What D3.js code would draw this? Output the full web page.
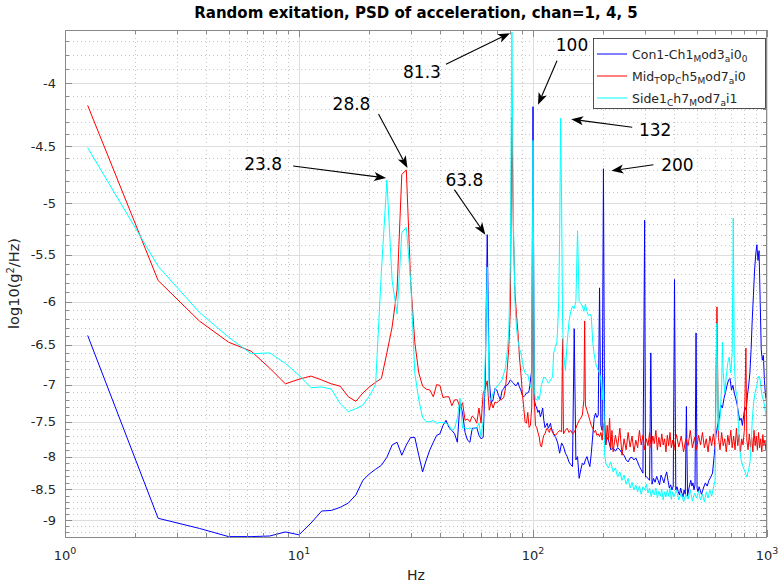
<!DOCTYPE html>
<html><head><meta charset="utf-8">
<script src="https://cdn.jsdelivr.net/npm/d3@7/dist/d3.min.js"></script>
<style>body{margin:0;background:#fff}svg text{font-family:"DejaVu Sans",sans-serif;fill:#262626}</style>
</head><body><svg id="c" width="782" height="586"></svg>
<script>
// ---------------- data ----------------
const con1 = [[1.25,-6.39],[2.5,-8.97],[3.75,-9.14],[5,-9.28],[6.25,-9.28],[7.5,-9.27],[8.75,-9.2],[10,-9.25],[11.25,-9.05],[12.5,-8.85],[13.75,-8.84],[15,-8.79],[16.25,-8.72],[17.5,-8.59],[18.75,-8.36],[20,-8.26],[21.25,-8.19],[22.5,-8.13],[23.75,-8.01],[25,-7.83],[26.25,-7.79],[27.5,-7.98],[28.75,-7.83],[30,-7.72],[31.25,-7.72],[32.5,-7.98],[33.75,-8.23],[35,-8.05],[36.25,-7.9],[37.5,-7.79],[38.75,-7.69],[40,-7.67],[41.25,-7.55],[42.5,-7.48],[43.75,-7.58],[45,-7.62],[46.25,-7.67],[47.5,-7.79],[48.75,-7.24],[50,-7.38],[51.25,-7.65],[52.5,-7.76],[53.75,-7.79],[55,-7.59],[56.25,-7.59],[57.5,-7.58],[58.75,-7.69],[60,-7.74],[61.25,-7.72],[62.5,-6.94],[63.75,-5.3],[65,-6.94],[66.25,-7.24],[67.5,-7.2],[68.75,-7.05],[70,-7.07],[71.25,-7.14],[72.5,-7.2],[73.75,-7.08],[75,-7.05],[76.25,-7.01],[77.5,-7.01],[78.75,-6.98],[80,-6.94],[81.25,-6.96],[82.5,-6.98],[83.75,-7.01],[85,-7.01],[86.25,-6.97],[87.5,-7.03],[88.75,-7.07],[90,-7.14],[91.25,-7.16],[92.5,-7.14],[93.75,-7.11],[95,-7.11],[96.25,-7.08],[97.5,-6.94],[98.75,-6.82],[100,-4.18],
[101.25,-7.2],[102.5,-7.27],[103.75,-7.31],[105,-7.37],[106.25,-7.34],[107.5,-7.43],[108.75,-7.38],[110,-7.31],[111.25,-7.48],[112.5,-7.58],[113.75,-7.55],[115,-7.52],[116.25,-7.59],[117.5,-7.56],[118.75,-7.52],[120,-7.6],[121.25,-7.62],[122.5,-7.68],[125,-7.72],[127.5,-7.8],[130,-7.95],[132.5,-7.8],[135,-7.85],[137.5,-7.95],[140,-8.0],[142.5,-8.08],[145,-8.12],[147.5,-8.15],[150,-6.31],[152.5,-8.05],[155,-8.0],[157.5,-8.33],[160,-8.2],[162.5,-8.1],[165,-8.12],[167.5,-8.05],[170,-8.0],[172.5,-8.08],[175,-8.15],[177.5,-7.95],[180,-7.7],[182.5,-7.45],[185,-7.38],[187.5,-7.44],[190,-7.41],[192.5,-5.85],[195,-7.55],[197.5,-7.62],[200,-4.69],
[202.5,-7.83],[205,-7.8],[207.5,-7.72],[210,-7.75],[215,-7.9],[220,-7.87],[225,-7.92],[230,-7.87],[235,-7.9],[240,-7.95],[245,-7.98],[250,-8.05],[255,-8.08],[260,-8.02],[265,-8.01],[270,-8.05],[275,-8.02],[280,-8.08],[285,-8.15],[290,-8.2],[295,-8.25],[300,-5.16],[302.5,-8.31],[305,-8.3],[310,-8.33],[315,-8.36],[318.75,-6.6],[322.5,-8.42],[327.5,-8.33],[332.5,-8.39],[337.5,-8.3],[342.5,-8.36],[347.5,-8.43],[352.5,-8.28],[357.5,-8.33],[362.5,-8.4],[367.5,-8.3],[372.5,-8.23],[377.5,-8.36],[382.5,-8.48],[387.5,-8.43],[392.5,-8.51],[397.5,-8.45],[402.5,-5.76],[407.5,-8.51],[412.5,-8.46],[417.5,-8.54],[422.5,-8.59],[427.5,-8.48],[432.5,-8.56],[437.5,-8.62],[442.5,-8.51],[447.5,-8.58],[452.5,-7.29],[457.5,-8.61],[462.5,-8.51],[467.5,-8.43],[472.5,-8.36],[477.5,-8.45],[482.5,-8.4],[487.5,-8.51],[492.5,-8.43],[497.5,-6.36],[502.5,-8.48],[507.5,-8.54],[512.5,-8.46],[517.5,-8.51],[525,-8.58],[535,-8.48],[545,-8.4],[555,-8.45],[565,-8.36],[575,-8.31],[585,-8.25],[595,-7.98],[605,-7.69],[615,-7.55],[625,-7.46],[635,-7.27],[645,-7.31],[655,-7.18],[665,-7.1],[675,-7.01],[685,-6.94],[695,-6.92],[705,-7.07],[715,-7.01],[725,-7.11],[735,-7.18],[745,-7.26],[755,-7.38],[765,-7.48],[775,-7.45],[785,-7.55],[795,-7.41],[805,-7.3],[815,-7.34],[825,-7.14],[835,-7.01],[845,-6.85],[855,-6.56],[865,-6.2],[875,-5.93],[885,-5.66],[895,-5.5],[905,-5.4],[915,-5.56],[925,-5.46],[935,-5.99],[945,-6.56],[955,-6.69],[965,-6.63],[975,-6.95],[985,-7.14],[995,-7.21],[1000,-7.27]];

const midTop = [[1.25,-4.17],[2.5,-5.77],[3.75,-6.22],[5,-6.47],[6.25,-6.58],[7.5,-6.79],[8.75,-6.99],[10,-6.93],[11.25,-6.89],[12.5,-6.94],[13.75,-6.99],[15,-7.02],[16.25,-7.16],[17.5,-7.22],[18.75,-7.11],[20,-7.03],[21.25,-6.97],[22.5,-6.92],[23.75,-6.6],[25,-6.29],[26.25,-5.87],[27.5,-4.74],[28.75,-4.7],[30,-5.78],[31.25,-6.47],[32.5,-6.85],[33.75,-7.02],[35,-7.06],[36.25,-7.07],[37.5,-7.16],[38.75,-7.0],[40,-7.01],[41.25,-7.17],[42.5,-7.16],[43.75,-7.16],[45,-7.28],[46.25,-7.2],[47.5,-7.2],[48.75,-7.31],[50,-7.24],[51.25,-7.48],[52.5,-7.46],[53.75,-7.5],[55,-7.42],[56.25,-7.45],[57.5,-7.52],[58.75,-7.31],[60,-7.52],[61.25,-7.11],[62.5,-7.05],[63.75,-6.95],[65,-7.34],[66.25,-7.23],[67.5,-7.31],[68.75,-7.23],[70,-7.24],[71.25,-7.22],[72.5,-7.2],[73.75,-7.19],[75,-7.17],[76.25,-7.05],[77.5,-6.82],[78.75,-6.55],[80,-6.1],[81.25,-4.26],[82.5,-5.3],[83.75,-5.9],[85,-6.15],[86.25,-6.35],[87.5,-6.65],[88.75,-6.85],[90,-7.1],[91.25,-7.3],[92.5,-7.5],[93.75,-7.52],[95,-7.37],[96.25,-7.58],[97.5,-7.55],[98.75,-7.3],[100,-5.53],
[101.25,-7.2],[102.5,-7.55],[103.75,-7.58],[105,-7.65],[106.25,-7.71],[107.5,-7.83],[108.75,-7.86],[110,-7.76],[111.25,-7.69],[112.5,-7.67],[113.75,-7.62],[115,-7.59],[116.25,-7.62],[117.5,-7.65],[118.75,-7.59],[120,-7.62],[122.5,-7.67],[125,-7.69],[127.5,-7.65],[130,-7.62],[132.5,-7.64],[133.75,-6.43],[135,-7.67],[137.5,-7.62],[140,-7.59],[142.5,-7.65],[145,-7.62],[147.5,-7.67],[150,-7.65],[152.5,-7.59],[155,-7.53],[157.5,-7.48],[160,-7.45],[162.5,-7.41],[165,-7.2],[166.25,-6.22],[167.5,-7.27],[170,-7.34],[172.5,-7.41],[175,-7.48],[177.5,-7.55],[180,-7.59],[182.5,-7.65],[185,-7.62],[187.5,-7.69],[190,-7.67],[192.5,-7.71],[195,-7.65],[197.5,-7.76],[200,-7.55],
[202.5,-7.48],[205,-7.83],[207.5,-7.55],[210,-7.76],[212.5,-7.45],[215,-7.87],[217.5,-7.62],[220,-7.93],[225,-7.69],[230,-7.86],[235,-7.59],[240,-7.98],[245,-7.74],[250,-7.9],[255,-7.65],[260,-7.86],[265,-7.7],[270,-7.93],[275,-7.76],[280,-7.87],[285,-7.62],[290,-7.83],[295,-7.69],[300,-7.9],[305,-7.74],[310,-7.84],[315,-7.65],[320,-7.87],[325,-7.7],[330,-7.81],[335,-7.62],[340,-7.9],[345,-7.72],[350,-7.86],[355,-7.67],[360,-7.83],[365,-7.74],[370,-7.93],[375,-7.69],[380,-7.84],[385,-7.65],[390,-7.87],[395,-7.76],[400,-7.9],[410,-7.68],[420,-7.86],[430,-7.7],[440,-7.93],[450,-7.74],[460,-7.84],[470,-7.62],[480,-7.87],[490,-7.72],[500,-7.9],[510,-7.69],[520,-7.83],[530,-7.65],[540,-7.87],[550,-7.74],[560,-7.93],[570,-7.7],[580,-7.84],[590,-7.67],[600,-7.86],[611.25,-6.06],[620,-7.72],[630,-7.9],[640,-7.65],[650,-7.84],[660,-7.74],[670,-7.93],[680,-7.69],[690,-7.83],[700,-7.62],[710,-7.87],[720,-7.7],[730,-7.9],[740,-7.59],[750,-7.84],[760,-7.68],[770,-7.93],[780,-7.74],[790,-7.83],[800,-7.62],[812.5,-6.54],[820,-7.76],[830,-7.9],[840,-7.67],[850,-7.86],[860,-7.72],[870,-7.93],[880,-7.62],[890,-7.84],[900,-7.7],[910,-7.9],[920,-7.65],[930,-7.87],[940,-7.74],[950,-7.93],[960,-7.68],[970,-7.84],[980,-7.76],[990,-7.9],[1000,-7.7]];

const side1 = [[1.25,-4.51],[2.5,-5.62],[3.75,-6.12],[5,-6.41],[6.25,-6.61],[7.5,-6.6],[8.75,-6.73],[10,-6.88],[11.25,-7.04],[12.5,-7.03],[13.75,-7.06],[15,-7.25],[16.25,-7.36],[17.5,-7.32],[18.75,-7.27],[20,-7.15],[21.25,-7.0],[22.5,-5.67],[23.75,-4.79],[25,-5.77],[26.25,-6.14],[27.5,-5.28],[28.75,-5.23],[30,-5.77],[31.25,-6.85],[32.5,-7.2],[33.75,-7.44],[35,-7.5],[36.25,-7.5],[37.5,-7.48],[38.75,-7.52],[40,-7.51],[41.25,-7.51],[42.5,-7.52],[43.75,-7.55],[45,-7.62],[46.25,-7.59],[47.5,-7.45],[48.75,-7.18],[50,-7.59],[51.25,-7.58],[52.5,-7.6],[53.75,-7.58],[55,-7.62],[56.25,-7.58],[57.5,-7.59],[58.75,-7.52],[60,-7.71],[61.25,-7.48],[62.5,-6.69],[63.75,-5.63],[65,-7.16],[66.25,-7.2],[67.5,-7.11],[68.75,-7.07],[70,-7.02],[71.25,-7.0],[72.5,-6.97],[73.75,-6.94],[75,-6.86],[76.25,-6.78],[77.5,-6.6],[78.75,-6.36],[80,-5.6],[81.25,-3.64],[82.5,-5.2],[83.75,-6.0],[85,-6.3],[86.25,-6.45],[87.5,-6.55],[88.75,-6.6],[90,-6.7],[91.25,-6.8],[92.5,-6.85],[93.75,-6.87],[95,-6.87],[96.25,-6.95],[97.5,-7.03],[98.75,-7.05],[100,-4.45],
[101.25,-7.05],[102.5,-7.2],[103.75,-7.2],[105,-7.15],[106.25,-7.2],[107.5,-7.1],[108.75,-7.0],[110,-6.95],[111.25,-6.9],[112.5,-6.92],[113.75,-6.93],[115,-6.95],[116.25,-6.98],[117.5,-6.97],[118.75,-6.94],[120,-6.92],[121.25,-6.9],[122.5,-6.6],[123.75,-6.56],[125,-6.5],[126.25,-6.5],[127.5,-6.3],[128.75,-6.0],[130,-5.3],[131.25,-4.27],[132.5,-5.0],[133.75,-6.2],[135,-6.6],[137.5,-6.82],[140,-6.47],[142.5,-6.23],[145,-6.11],[147.5,-6.05],[150,-6.08],[152.5,-6.0],[155,-5.26],[157.5,-6.0],[160,-6.02],[162.5,-6.05],[165,-6.11],[167.5,-6.03],[170,-6.11],[172.5,-6.16],[175,-6.14],[177.5,-6.17],[180,-6.47],[182.5,-6.61],[185,-6.72],[187.5,-6.78],[190,-6.82],[192.5,-6.85],[195,-6.94],[197.5,-7.2],[200,-6.9],
[202.5,-7.98],[205,-8.1],[210,-8.17],[215,-8.08],[220,-8.23],[225,-8.17],[230,-8.31],[235,-8.23],[240,-8.36],[245,-8.28],[250,-8.42],[255,-8.33],[260,-8.48],[265,-8.39],[270,-8.51],[275,-8.43],[280,-8.54],[285,-8.45],[290,-8.58],[295,-8.46],[300,-8.51],[305,-8.42],[310,-8.56],[315,-8.48],[320,-8.62],[325,-8.51],[330,-8.59],[335,-8.48],[340,-8.64],[345,-8.53],[350,-8.61],[355,-8.5],[360,-8.67],[365,-8.54],[370,-8.62],[375,-8.51],[380,-8.61],[385,-8.48],[390,-8.66],[395,-8.54],[400,-8.62],[410,-8.51],[420,-8.67],[430,-8.56],[440,-8.7],[450,-8.58],[460,-8.66],[470,-8.51],[480,-8.69],[490,-8.56],[500,-8.64],[510,-8.53],[520,-8.67],[530,-8.58],[540,-8.7],[550,-8.54],[560,-8.64],[570,-8.51],[580,-8.61],[590,-8.48],[600,-8.36],[610,-6.25],[620,-7.62],[630,-7.44],[640,-7.01],[645,-6.47],[650,-6.85],[660,-7.11],[670,-6.89],[680,-6.72],[690,-6.65],[700,-6.85],[710,-6.6],[717.5,-5.14],[725,-6.72],[735,-7.07],[745,-7.16],[755,-7.55],[765,-7.9],[775,-8.05],[790,-8.15],[805,-8.23],[820,-8.31],[835,-8.19],[845,-8.1],[855,-7.83],[865,-7.48],[875,-7.27],[885,-7.14],[895,-7.07],[905,-7.01],[915,-6.92],[925,-6.89],[935,-6.94],[945,-7.07],[955,-7.16],[965,-7.2],[975,-7.27],[985,-7.37],[1000,-7.48]];

const seriesNames = ["Con1-Ch1_Mod3_ai0_0","Mid_Top_Ch5_Mod7_ai0","Side1_Ch7_Mod7_ai1"];
const seriesColors = ["#0000ff","#ff0000","#00ffff"];
const xTickValues = [1,10,100,1000];
const xTickExponents = ["0","1","2","3"];
const yTickValues = [-4,-4.5,-5,-5.5,-6,-6.5,-7,-7.5,-8,-8.5,-9];
const yTickLabels = ["-4","-4.5","-5","-5.5","-6","-6.5","-7","-7.5","-8","-8.5","-9"];
const annLabels = ["23.8","28.8","81.3","100","63.8","132","200"];
const annFreq   = [23.8,28.8,81.3,100,63.8,132,200];
const annValue  = [-4.78,-4.70,-3.64,-4.18,-5.30,-4.27,-4.69];

// ---------------- layout ----------------
const L=65,R=767,T=30,B=537;
// per annotation: tip offset, tail, text (px, relative to tip)
const annLayout = [
  {dx:-1,dy:-1, tx:-93, ty:-12, lx:-123, ly:-14},
  {dx:1, dy:-2, tx:-29, ty:-54, lx:-56, ly:-64},
  {dx:-2,dy:1,  tx:-64, ty:31,  lx:-88, ly:39},
  {dx:5, dy:-2, tx:19,  ty:-44, lx:34,  ly:-60},
  {dx:-2,dy:0,  tx:-31, ty:-45, lx:-21, ly:-55},
  {dx:10,dy:1,  tx:61,  ty:8,   lx:84,  ly:11},
  {dx:8, dy:2,  tx:42,  ty:-6,  lx:66,  ly:-6}
];

const svg = d3.select("#c");
const x = d3.scaleLog().domain([1,1000]).range([L,R]);
const y = d3.scaleLog().domain([-9.287,-3.6255]).range([B,T]);
const px = v => Math.round(v)+0.5;

const xMinor=[]; for (const dec of [1,10,100]) for (let k=2;k<=9;k++) xMinor.push(dec*k);
const yMinor=[]; for (let k=37;k<=92;k++) if (k%5!==0) yMinor.push(-k/10);

// grid
const g = svg.append("g").attr("shape-rendering","crispEdges");
g.selectAll(".xmin").data(xMinor).join("line").attr("x1",d=>px(x(d))).attr("x2",d=>px(x(d))).attr("y1",T).attr("y2",B)
  .attr("stroke","#c4c4c4").attr("stroke-dasharray","1,3");
g.selectAll(".ymin").data(yMinor).join("line").attr("y1",d=>px(y(d))).attr("y2",d=>px(y(d))).attr("x1",L).attr("x2",R)
  .attr("stroke","#c4c4c4").attr("stroke-dasharray","1,3");
g.selectAll(".xmaj").data(xTickValues).join("line").attr("x1",d=>px(x(d))).attr("x2",d=>px(x(d))).attr("y1",T).attr("y2",B)
  .attr("stroke","#dedede");
g.selectAll(".ymaj").data(yTickValues).join("line").attr("y1",d=>px(y(d))).attr("y2",d=>px(y(d))).attr("x1",L).attr("x2",R)
  .attr("stroke","#dedede");

// data lines
svg.append("clipPath").attr("id","clip").append("rect").attr("x",L).attr("y",T).attr("width",R-L).attr("height",B-T);
const line = d3.line().x(d=>x(d[0])).y(d=>y(d[1]));
const lg = svg.append("g").attr("clip-path","url(#clip)");
[con1, midTop, side1].forEach((s,i)=>{
  lg.append("path").attr("d",line(s)).attr("fill","none").attr("stroke",seriesColors[i]).attr("stroke-width",1).attr("stroke-linejoin","round");
});

// axes frame & ticks
const ax = svg.append("g").attr("shape-rendering","crispEdges").attr("stroke","#8a8a8a");
ax.append("rect").attr("x",L+0.5).attr("y",T+0.5).attr("width",R-L-1).attr("height",B-T).attr("fill","none");
const tickX = (vals,len)=>{
  ax.selectAll(null).data(vals).join("line").attr("x1",d=>px(x(d))).attr("x2",d=>px(x(d))).attr("y1",B).attr("y2",B-len);
  ax.selectAll(null).data(vals).join("line").attr("x1",d=>px(x(d))).attr("x2",d=>px(x(d))).attr("y1",T).attr("y2",T+len);
};
const tickY = (vals,len)=>{
  ax.selectAll(null).data(vals).join("line").attr("y1",d=>px(y(d))).attr("y2",d=>px(y(d))).attr("x1",L).attr("x2",L+len);
  ax.selectAll(null).data(vals).join("line").attr("y1",d=>px(y(d))).attr("y2",d=>px(y(d))).attr("x1",R).attr("x2",R-len);
};
tickX(xTickValues,7); tickX(xMinor,4); tickY(yTickValues,7); tickY(yMinor,4);

// tick labels
const xl = svg.selectAll(".xtl").data(xTickValues).join("text").attr("x",d=>x(d)).attr("y",560)
  .attr("text-anchor","middle").attr("font-size",13);
xl.append("tspan").text("10");
xl.append("tspan").attr("dy",-6).attr("font-size",9.5).text((d,i)=>xTickExponents[i]);
svg.selectAll(".ytl").data(yTickValues).join("text").attr("x",L-9).attr("y",d=>y(d)).attr("dy","0.36em")
  .attr("text-anchor","end").attr("font-size",13).text((d,i)=>yTickLabels[i]);

// axis titles
svg.append("text").attr("x",(L+R)/2).attr("y",580).attr("text-anchor","middle").attr("font-size",14).text("Hz");
const yt = svg.append("text").attr("transform",`translate(19,${(T+B)/2}) rotate(-90)`).attr("text-anchor","middle").attr("font-size",14.5);
yt.append("tspan").text("log10(g");
yt.append("tspan").attr("dy",-5).attr("font-size",10).text("2");
yt.append("tspan").attr("dy",5).text("/Hz)");
svg.append("text").attr("x",(L+R)/2).attr("y",18).attr("text-anchor","middle").attr("font-size",15).attr("font-weight","bold")
  .style("fill","#000").text("Random exitation, PSD of acceleration, chan=1, 4, 5");

// annotations
const defs = svg.append("g");
annLabels.forEach((lab,i)=>{
  const o = annLayout[i];
  const tipX = x(annFreq[i])+o.dx, tipY = y(annValue[i])+o.dy;
  const sx = tipX+o.tx, sy = tipY+o.ty;
  const ang = Math.atan2(tipY-sy, tipX-sx);
  const hl=12, hw=4.5, nb=9;
  const ux=Math.cos(ang), uy=Math.sin(ang), vx=-uy, vy=ux;
  const bx=tipX-ux*hl, by=tipY-uy*hl, nx=tipX-ux*nb, ny=tipY-uy*nb;
  defs.append("line").attr("x1",sx).attr("y1",sy).attr("x2",nx).attr("y2",ny).attr("stroke","#000").attr("stroke-width",1.1);
  defs.append("path").attr("d",`M${tipX},${tipY}L${bx+vx*hw},${by+vy*hw}L${nx},${ny}L${bx-vx*hw},${by-vy*hw}Z`).attr("fill","#000");
  defs.append("text").attr("x",tipX+o.lx).attr("y",tipY+o.ly).attr("dy","0.36em").attr("text-anchor","middle")
    .attr("font-size",17).style("fill","#000").text(lab);
});

// legend
const leg = svg.append("g");
leg.append("rect").attr("x",593.5).attr("y",38.5).attr("width",172).attr("height",70).attr("fill","#fff").attr("stroke","#262626").attr("stroke-width",0.8);
seriesNames.forEach((name,i)=>{
  const ry = 54 + i*22;
  leg.append("line").attr("x1",597).attr("x2",627).attr("y1",ry).attr("y2",ry).attr("stroke",seriesColors[i]).attr("stroke-width",1);
  const t = leg.append("text").attr("x",632).attr("y",ry+4.5).attr("font-size",12.5);
  let buf="", sub=false;
  for (let k=0;k<name.length;k++){
    const c=name[k];
    if (c==="_"){ if(buf){ t.append("tspan").text(buf); buf="";} const s=name[++k]; t.append("tspan").attr("dy",3.5).attr("font-size",9).text(s); sub=true; continue; }
    if (sub){ t.append("tspan").attr("dy",-3.5).text(c); sub=false; continue; }
    buf+=c;
  }
  if (buf) t.append("tspan").text(buf);
});
</script></body></html>
